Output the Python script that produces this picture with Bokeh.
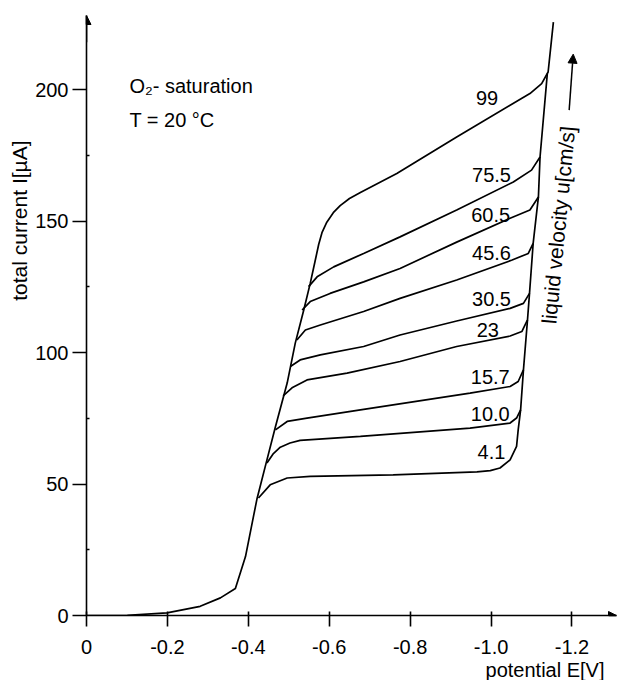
import math
from bokeh.plotting import figure
from bokeh.models import Range1d, FixedTicker, Label, Arrow, NormalHead, Title
from bokeh.embed import file_html
from bokeh.resources import INLINE

FONT = "Liberation Sans"

# ---- axis ticks -------------------------------------------------------
x_ticks = [0.0, -0.2, -0.4, -0.6, -0.8, -1.0, -1.2]
x_tick_labels = ["0", "-0.2", "-0.4", "-0.6", "-0.8", "-1.0", "-1.2"]
y_ticks = [0, 50, 100, 150, 200]
y_minor_ticks = [25, 75, 125, 175]

# ---- curves: potential E [V], total current I [uA] ---------------------
# common rising branch (continued by the u = 99 cm/s curve)
env_E = [0.0, -0.101, -0.199, -0.281, -0.331, -0.368, -0.393, -0.421, -0.446, -0.467,
         -0.496, -0.516, -0.537, -0.553, -0.566, -0.574, -0.582, -0.594, -0.610, -0.627,
         -0.650, -0.677, -0.767]
env_I = [0.0, 0.1, 1.0, 3.5, 6.7, 10.3, 22.4, 44.1, 59.2, 71.8,
         88.4, 103.6, 116.2, 126.3, 135.5, 141.2, 145.6, 149.6, 153.2, 155.9,
         158.6, 160.9, 168.1]

E_99 = [-0.915, -1.047, -1.096, -1.125, -1.141, -1.154]
I_99 = [182.0, 194.1, 198.5, 202.3, 206.7, 225.7]

E_75_5 = [-0.549, -0.570, -0.611, -0.685, -0.775, -0.915, -1.055, -1.100, -1.121, -1.139]
I_75_5 = [125.1, 128.8, 132.6, 137.7, 144.0, 154.2, 164.9, 169.4, 174.4, 206.1]

E_60_5 = [-0.533, -0.553, -0.602, -0.685, -0.775, -0.915, -1.047, -1.096, -1.117, -1.121]
I_60_5 = [116.2, 119.4, 122.5, 126.9, 132.0, 142.0, 151.1, 154.2, 159.2, 174.4]

E_45_6 = [-0.520, -0.541, -0.578, -0.685, -0.775, -0.915, -1.052, -1.092, -1.104, -1.117]
I_45_6 = [104.8, 108.6, 110.5, 115.6, 120.6, 127.6, 135.2, 137.7, 141.5, 159.2]

E_30_5 = [-0.504, -0.528, -0.578, -0.685, -0.775, -0.915, -1.047, -1.080, -1.095, -1.104]
I_30_5 = [94.7, 97.2, 99.1, 102.3, 106.7, 112.0, 116.8, 118.7, 122.5, 141.5]

E_23 = [-0.486, -0.508, -0.545, -0.644, -0.775, -0.915, -1.047, -1.076, -1.090, -1.095]
I_23 = [83.5, 86.6, 89.6, 92.2, 96.6, 102.3, 106.3, 108.0, 112.4, 122.5]

E_15_7 = [-0.467, -0.496, -0.545, -0.677, -0.948, -1.047, -1.067, -1.080, -1.090]
I_15_7 = [70.6, 73.8, 75.1, 78.2, 84.6, 87.1, 89.0, 93.4, 112.4]

E_10_0 = [-0.446, -0.462, -0.479, -0.503, -0.528, -0.677, -0.948, -1.047, -1.063, -1.073, -1.080]
I_10_0 = [58.0, 61.6, 64.0, 65.6, 66.6, 68.1, 71.3, 73.2, 75.1, 78.2, 93.4]

E_4_1 = [-0.425, -0.454, -0.496, -0.553, -0.758, -0.965, -0.998, -1.022, -1.047, -1.063, -1.067, -1.073]
I_4_1 = [44.7, 49.7, 52.3, 52.9, 53.5, 54.6, 55.1, 56.1, 59.2, 64.3, 70.6, 78.2]

# curve labels (liquid velocity u in cm/s) and where they sit
vel_labels = ["99", "75.5", "60.5", "45.6", "30.5", "23", "15.7", "10.0", "4.1"]
vel_label_E = [-0.990, -1.001, -0.999, -1.001, -1.001, -0.992, -0.998, -0.998, -1.001]
vel_label_I = [197.0, 167.5, 152.5, 138.0, 120.2, 108.7, 90.6, 76.5, 62.0]

# ---- figure -----------------------------------------------------------
p = figure(width=618, height=680,
           x_range=Range1d(0.0, -1.31), y_range=Range1d(0.0, 228.2),
           output_backend="svg", toolbar_location=None,
           min_border_left=86, min_border_right=2, min_border_top=15, min_border_bottom=64)
p.grid.visible = False
p.outline_line_color = None
p.background_fill_color = "white"
p.border_fill_color = "white"

for ax in (p.xaxis[0], p.yaxis[0]):
    ax.axis_line_color = "black"
    ax.axis_line_width = 1.6
    ax.major_tick_line_color = "black"
    ax.major_tick_line_width = 1.6
    ax.minor_tick_line_color = "black"
    ax.minor_tick_line_width = 1.4
    ax.major_label_text_font = FONT
    ax.major_label_text_font_size = "20px"
    ax.major_label_text_color = "black"

xa = p.xaxis[0]
xa.ticker = FixedTicker(ticks=x_ticks, minor_ticks=[])
xa.major_label_overrides = {t: s for t, s in zip(x_ticks, x_tick_labels)}
xa.major_tick_out = 11
xa.major_tick_in = 4
xa.major_label_standoff = 13

ya = p.yaxis[0]
ya.ticker = FixedTicker(ticks=y_ticks, minor_ticks=y_minor_ticks)
ya.major_tick_out = 14
ya.major_tick_in = 0
ya.minor_tick_out = 0
ya.minor_tick_in = 3
ya.major_label_standoff = 4

# axis titles (as side titles so they are not clipped by the frame)
p.add_layout(Title(text="total current I[\u00b5A]", text_font=FONT, text_font_size="21px",
                   text_font_style="normal", text_color="black",
                   align="right", offset=125, standoff=4), "left")
p.add_layout(Title(text="potential E[V]", text_font=FONT, text_font_size="20px",
                   text_font_style="normal", text_color="black",
                   align="right", offset=12, standoff=0), "below")

# curves
p.line(env_E + E_99, env_I + I_99, line_color="black", line_width=1.7)
for E, I in [(E_75_5, I_75_5), (E_60_5, I_60_5), (E_45_6, I_45_6), (E_30_5, I_30_5),
             (E_23, I_23), (E_15_7, I_15_7), (E_10_0, I_10_0), (E_4_1, I_4_1)]:
    p.line(E, I, line_color="black", line_width=1.7)

for t, ex, iy in zip(vel_labels, vel_label_E, vel_label_I):
    p.add_layout(Label(x=ex, y=iy, text=t, text_font=FONT, text_font_size="20px",
                       text_align="center", text_baseline="middle", text_color="black"))

# annotation texts
p.add_layout(Label(x=-0.106, y=201.3, text="O\u2082- saturation", text_font=FONT,
                   text_font_size="20px", text_align="left", text_baseline="middle",
                   text_color="black"))
p.add_layout(Label(x=-0.106, y=188.4, text="T = 20 \u00b0C", text_font=FONT,
                   text_font_size="20px", text_align="left", text_baseline="middle",
                   text_color="black"))

# liquid velocity direction label with arrow
p.add_layout(Label(x=-1.166, y=148.5, text="liquid velocity u[cm/s]", text_font=FONT,
                   text_font_size="21px", angle=math.radians(84.5),
                   text_align="center", text_baseline="middle", text_color="black"))
p.add_layout(Arrow(x_start=-1.193, y_start=192.2, x_end=-1.203, y_end=213.5,
                   line_width=1.5, line_color="black",
                   end=NormalHead(size=9, fill_color="black", line_color="black")))

# axis arrowheads
p.add_layout(Arrow(x_start=0.0, y_start=218.0, x_end=0.0, y_end=228.2, line_width=1.6,
                   end=NormalHead(size=9, fill_color="black", line_color="black")))
p.add_layout(Arrow(x_start=-1.29, y_start=0.0, x_end=-1.31, y_end=0.0, line_width=1.6,
                   end=NormalHead(size=8, fill_color="black", line_color="black")))

open("out.html", "w").write(file_html(p, INLINE))
